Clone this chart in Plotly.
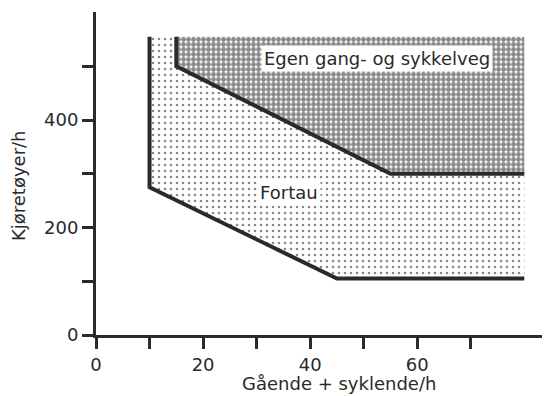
import plotly.graph_objects as go

# boundary lines (x = gående + syklende/h, y = kjøretøyer/h)
lower_x = [10, 10, 45, 80]
lower_y = [555, 275, 105, 105]
upper_x = [15, 15, 55, 80]
upper_y = [555, 500, 300, 300]

x_ticks = [0, 10, 20, 30, 40, 50, 60, 70]
x_ticktext = ["0", "", "20", "", "40", "", "60", ""]
y_ticks = [0, 100, 200, 300, 400, 500]
y_ticktext = ["0", "", "200", "", "400", ""]

top = lower_y[0]

# light area (fortau) = between lower and upper boundary
fortau_x = lower_x + upper_x[::-1]
fortau_y = lower_y + upper_y[::-1]
# dark area (egen gang- og sykkelveg) = above upper boundary
egen_x = upper_x + [upper_x[-1]]
egen_y = upper_y + [top]

font = "DejaVu Sans"
ink = "#2a2a2a"

fig = go.Figure()

fig.add_trace(go.Scatter(
    x=fortau_x, y=fortau_y, fill="toself", mode="none",
    fillpattern=dict(shape=".", size=6, solidity=0.15,
                     fgcolor="#111", bgcolor="white"),
    hoverinfo="skip", showlegend=False))

fig.add_trace(go.Scatter(
    x=egen_x, y=egen_y, fill="toself", mode="none",
    fillpattern=dict(shape=".", size=5, solidity=0.72,
                     fgcolor="#151515", bgcolor="white"),
    hoverinfo="skip", showlegend=False))

for xs, ys in [(lower_x, lower_y), (upper_x, upper_y)]:
    fig.add_trace(go.Scatter(
        x=xs, y=ys, mode="lines",
        line=dict(color=ink, width=4),
        hoverinfo="skip", showlegend=False))

# page body has an 8px margin, so the figure is shifted by 8px
fig.update_layout(
    width=542, height=388,
    margin=dict(l=88, r=0, t=4, b=61),
    plot_bgcolor="white", paper_bgcolor="white",
    font=dict(family=font, size=18, color=ink),
    xaxis=dict(
        range=[0, 84.8], showgrid=False, zeroline=False,
        showline=True, linecolor=ink, linewidth=3,
        ticks="outside", ticklen=11, tickwidth=3, tickcolor=ink,
        tickvals=x_ticks, ticktext=x_ticktext,
    ),
    yaxis=dict(
        range=[0, 601], showgrid=False, zeroline=False,
        showline=True, linecolor=ink, linewidth=3,
        ticks="outside", ticklen=11, tickwidth=3, tickcolor=ink,
        tickvals=y_ticks, ticktext=y_ticktext,
    ),
    annotations=[
        dict(text="Egen gang- og sykkelveg", x=52.4, y=515, xref="x", yref="y",
             showarrow=False, bgcolor="white", borderpad=2),
        dict(text="Fortau", x=36, y=266, xref="x", yref="y",
             showarrow=False, bgcolor="white", borderpad=2),
        dict(text="Gående + syklende/h", x=0.535, y=-0.149,
             xref="paper", yref="paper", xanchor="center", yanchor="middle",
             showarrow=False),
        dict(text="Kjøretøyer/h", x=-0.172, y=0.464,
             xref="paper", yref="paper", xanchor="center", yanchor="middle",
             showarrow=False, textangle=-90),
    ],
)

fig.write_html("out.html")
